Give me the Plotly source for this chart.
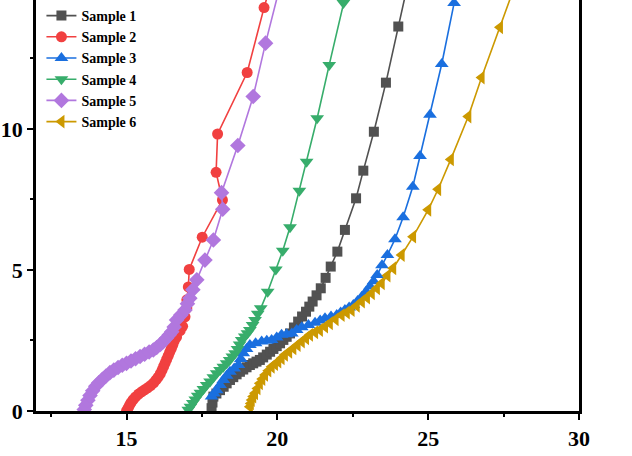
import plotly.graph_objects as go

# Series names (legend text in the reference is illegible; generic labels used)
names = ["Sample 1", "Sample 2", "Sample 3", "Sample 4", "Sample 5", "Sample 6"]

gray_x = [17.82, 17.85, 17.88, 17.98, 18.1, 18.22, 18.32, 18.43, 18.54, 18.65, 18.76, 18.87, 18.98, 19.09,
          19.2, 19.31, 19.42, 19.53, 19.65, 19.76, 19.87, 19.98, 20.09, 20.2, 20.31, 20.42, 20.55, 20.69,
          20.82, 20.95, 21.06, 21.17, 21.3, 21.44, 21.6, 21.77, 21.99, 22.24, 22.61, 22.85, 23.2, 23.6,
          24.01, 24.4]
gray_y = [0.1, 0.3, 0.51, 0.62, 0.74, 0.86, 0.98, 1.1, 1.2, 1.3, 1.39, 1.47, 1.55, 1.63,
          1.69, 1.75, 1.81, 1.9, 2.0, 2.1, 2.2, 2.3, 2.4, 2.52, 2.63, 2.75, 2.96, 3.17,
          3.35, 3.52, 3.7, 3.88, 4.1, 4.35, 4.72, 5.12, 5.65, 6.42, 7.54, 8.52, 9.9, 11.64,
          13.63, 15.5]

red_x = [15.0, 15.05, 15.1, 15.15, 15.22, 15.3, 15.4, 15.5, 15.6, 15.7, 15.8, 15.9, 15.98, 16.05,
         16.12, 16.18, 16.23, 16.28, 16.33, 16.38, 16.43, 16.48, 16.53, 16.58, 16.66, 16.78, 16.86,
         16.94, 17.0, 17.0, 17.05, 17.08, 17.51, 18.18, 17.97, 18.02, 19.0, 19.56, 19.75]
red_y = [0.0, 0.1, 0.2, 0.3, 0.4, 0.5, 0.6, 0.68, 0.75, 0.82, 0.9, 1.0, 1.1, 1.2,
         1.32, 1.45, 1.58, 1.7, 1.83, 1.95, 2.08, 2.2, 2.33, 2.47, 2.62, 2.85, 3.0,
         3.34, 3.65, 3.94, 4.4, 5.02, 6.16, 7.48, 8.46, 9.82, 12.0, 14.3, 15.0]

blue_x = [17.82, 17.9, 17.99, 18.1, 18.21, 18.32, 18.43, 18.57, 18.71, 18.79, 18.87, 18.98, 19.09,
          19.28, 19.48, 19.65, 19.81, 19.98, 20.14, 20.31, 20.48, 20.64, 20.81, 21.03, 21.25, 21.42,
          21.58, 21.78, 21.97, 22.1, 22.24, 22.38, 22.52, 22.66, 22.8, 22.94, 23.07, 23.19, 23.31,
          23.47, 23.65, 23.9, 24.17, 24.49, 24.73, 25.06, 25.45, 25.86, 26.25]
blue_y = [0.51, 0.62, 0.74, 0.92, 1.1, 1.25, 1.39, 1.51, 1.63, 1.84, 2.05, 2.2, 2.34,
          2.4, 2.46, 2.49, 2.52, 2.61, 2.7, 2.72, 2.75, 2.87, 2.97, 3.05, 3.13, 3.21,
          3.29, 3.35, 3.4, 3.49, 3.58, 3.67, 3.76, 3.9, 4.05, 4.23, 4.41, 4.6, 4.82,
          5.17, 5.53, 6.09, 6.87, 7.95, 9.04, 10.5, 12.3, 14.46, 16.5]

green_x = [17.05, 17.12, 17.2, 17.28, 17.36, 17.45, 17.55, 17.66, 17.77, 17.88, 17.99, 18.1, 18.21,
           18.32, 18.42, 18.51, 18.6, 18.68, 18.75, 18.82, 18.92, 19.01, 19.09, 19.18, 19.26, 19.35,
           19.45, 19.68, 19.95, 20.18, 20.42, 20.73, 20.97, 21.32, 21.72, 22.19, 22.6]
green_y = [0.04, 0.15, 0.28, 0.41, 0.54, 0.65, 0.78, 0.92, 1.05, 1.2, 1.34, 1.45, 1.57,
           1.69, 1.81, 1.93, 2.05, 2.2, 2.36, 2.52, 2.64, 2.76, 2.87, 3.05, 3.23, 3.45,
           3.64, 4.23, 5.02, 5.68, 6.51, 7.81, 8.84, 10.38, 12.27, 14.46, 16.3]

purple_x = [13.6, 13.65, 13.72, 13.79, 13.88, 13.98, 14.08, 14.2, 14.32, 14.45, 14.58, 14.72, 14.86,
            15.0, 15.15, 15.3, 15.45, 15.6, 15.75, 15.89, 16.0, 16.12, 16.22, 16.32, 16.42, 16.5,
            16.58, 16.66, 16.8, 16.94, 17.02, 17.1, 17.2, 17.33, 17.6, 17.88, 18.19, 18.15, 18.69,
            19.2, 19.61, 20.05]
purple_y = [0.05, 0.2, 0.38, 0.55, 0.72, 0.88, 1.0, 1.12, 1.24, 1.36, 1.45, 1.54, 1.62,
            1.69, 1.77, 1.85, 1.93, 2.01, 2.09, 2.16, 2.25, 2.36, 2.46, 2.58, 2.7, 2.81,
            2.98, 3.23, 3.4, 3.58, 3.8, 4.0, 4.3, 4.65, 5.35, 6.06, 7.15, 7.74, 9.41,
            11.15, 13.04, 14.9]

yellow_x = [19.09, 19.12, 19.15, 19.2, 19.26, 19.34, 19.42, 19.5, 19.59, 19.7, 19.81, 19.92, 20.03,
            20.14, 20.25, 20.39, 20.53, 20.67, 20.81, 20.95, 21.08, 21.25, 21.41, 21.58, 21.74, 21.93,
            22.13, 22.3, 22.46, 22.63, 22.8, 22.97, 23.13, 23.3, 23.46, 23.65, 23.84, 24.12, 24.5,
            25.0, 25.33, 25.75, 26.33, 26.77, 27.38, 27.95]
yellow_y = [0.15, 0.27, 0.39, 0.51, 0.63, 0.8, 0.98, 1.13, 1.28, 1.43, 1.57, 1.66, 1.75,
            1.87, 1.99, 2.1, 2.22, 2.34, 2.46, 2.58, 2.7, 2.79, 2.87, 2.99, 3.11, 3.25,
            3.4, 3.49, 3.58, 3.73, 3.88, 4.02, 4.17, 4.35, 4.53, 4.8, 5.06, 5.53, 6.18,
            7.13, 7.86, 8.92, 10.44, 11.82, 13.6, 15.3]

x_ticks = [15, 20, 25, 30]
y_ticks = [0, 5, 10]

series = [
    (names[0], gray_x, gray_y, "#515151", "square", 10),
    (names[1], red_x, red_y, "#F14040", "circle", 11),
    (names[2], blue_x, blue_y, "#1A6FDF", "triangle-up", 12),
    (names[3], green_x, green_y, "#37AD6B", "triangle-down", 12),
    (names[4], purple_x, purple_y, "#B177DE", "diamond", 12),
    (names[5], yellow_x, yellow_y, "#CC9900", "triangle-left", 12),
]

fig = go.Figure()
for name, xs, ys, color, sym, size in series:
    fig.add_trace(go.Scatter(
        x=xs, y=ys, name=name, mode="lines+markers",
        line=dict(color=color, width=1.6),
        marker=dict(symbol=sym, size=size, color=color, line=dict(width=0)),
    ))

tickfont = dict(family="Liberation Serif, Times New Roman, serif", size=22, color="black", weight="bold")

fig.update_layout(
    width=632, height=456,
    margin=dict(l=36, r=53, t=0, b=45, autoexpand=False),
    plot_bgcolor="white", paper_bgcolor="white",
    showlegend=True,
    legend=dict(x=0.01, y=1.0, xanchor="left", yanchor="top",
                bgcolor="rgba(255,255,255,0.9)",
                font=dict(family="Liberation Serif, serif", size=14, color="black", weight="bold"),
                tracegroupgap=0, itemwidth=30),
    xaxis=dict(range=[12, 30], tickvals=x_ticks, showgrid=False, zeroline=False,
               showline=True, linecolor="black", linewidth=2.5,
               ticks="outside", ticklen=6, tickwidth=2, tickcolor="black",
               minor=dict(dtick=2.5, tick0=0, ticks="outside", ticklen=3, tickwidth=2, tickcolor="black"),
               tickfont=tickfont),
    yaxis=dict(range=[0, 14.57], tickvals=y_ticks, showgrid=False, zeroline=False,
               showline=True, linecolor="black", linewidth=2.5, mirror=True,
               ticks="outside", ticklen=6, tickwidth=2, tickcolor="black",
               minor=dict(dtick=2.5, tick0=0, ticks="outside", ticklen=3, tickwidth=2, tickcolor="black"),
               tickfont=tickfont),
)

fig.write_html("out.html", config={"displayModeBar": False},
               post_script="document.body.style.margin='0';document.body.style.overflow='hidden';")
